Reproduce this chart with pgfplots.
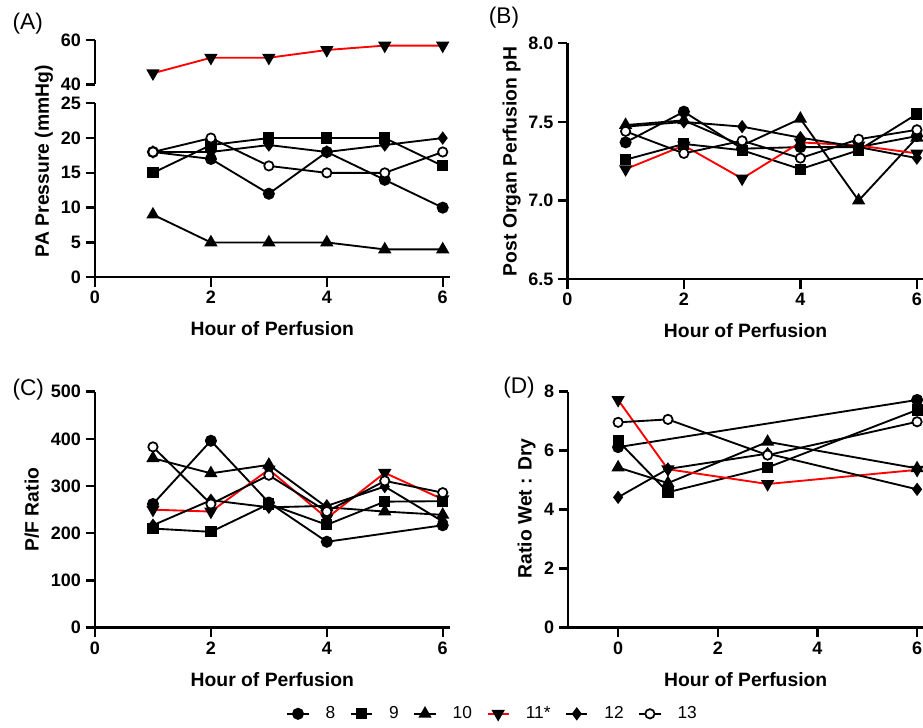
\documentclass[border=0pt]{standalone}
\usepackage{fontspec}
\setmainfont{Liberation Sans}
\setsansfont{Liberation Sans}
\usepackage{pgfplots}
\pgfplotsset{compat=1.18}

\pgfplotsset{
  panel/.style={
    scale only axis,
    anchor=south west,
    axis x line*=bottom, axis y line*=left,
    axis line style={line width=1.8pt},
    tick style={line width=1.8pt, black},
    tick align=outside,
    major tick length=7pt,
    xtick={0,2,4,6},
    xmin=0, xmax=6.12,
    ticklabel style={font=\bfseries\fontsize{13.5}{13.5}\selectfont},
    /pgf/number format/assume math mode=true,
    label style={font=\bfseries\fontsize{14.5}{14.5}\selectfont},
    xlabel style={at={([yshift=-38.8pt]axis description cs:0.5,0)}, anchor=center},
    clip=false,
  },
  s8/.style={black, line width=1.4pt, mark=*, mark size=3.8pt, mark options={solid}},
  s9/.style={black, line width=1.4pt, mark=square*, mark size=3.5pt, mark options={solid}},
  s10/.style={black, line width=1.4pt, mark=triangle*, mark size=4.4pt, mark options={solid}},
  s11/.style={red, line width=1.4pt, mark=triangle*, mark size=4.4pt, mark options={solid, black, fill=black, rotate=180}},
  s12/.style={black, line width=1.4pt, mark=diamond*, mark size=3.9pt, mark options={solid}},
  s13/.style={black, line width=1.4pt, mark=*, mark size=3.5pt, mark options={solid, fill=white, line width=1.3pt}},
}

\begin{document}
\begin{tikzpicture}
\useasboundingbox (0,0) rectangle (692.25pt,545.25pt);

% (A) upper segment
\begin{axis}[panel, at={(71.25pt,482.0pt)}, width=266pt, height=33.2pt,
  axis x line=none, ymin=40, ymax=60, ytick={40,60}]
\addplot[s11] coordinates {(1,45) (2,52) (3,52) (4,55.5) (5,57.5) (6,57.5)};
\end{axis}

% (A) lower segment
\begin{axis}[panel, at={(71.25pt,337.3pt)}, width=266pt, height=130.5pt,
  ymin=0, ymax=25, ytick={0,5,10,15,20,25},
  xlabel={Hour of Perfusion},
  ylabel={PA Pressure (mmHg)},
  ylabel style={at={([xshift=-38.3pt]axis description cs:0,0.668)}, anchor=center}]
\addplot[s8] coordinates {(1,18) (2,17) (3,12) (4,18) (5,14) (6,10)};
\addplot[s9] coordinates {(1,15) (2,19) (3,20) (4,20) (5,20) (6,16)};
\addplot[s10] coordinates {(1,9) (2,5) (3,5) (4,5) (5,4) (6,4)};
\addplot[s12] coordinates {(1,18) (2,18) (3,19) (4,18) (5,19) (6,20)};
\addplot[s13] coordinates {(1,18) (2,20) (3,16) (4,15) (5,15) (6,18)};
\end{axis}

% (B)
\begin{axis}[panel, at={(425.5pt,335.8pt)}, width=267.4pt, height=177pt,
  ymin=6.5, ymax=8.0, ytick={6.5,7.0,7.5,8.0},
  yticklabel style={/pgf/number format/.cd, fixed, fixed zerofill, precision=1},
  xlabel={Hour of Perfusion},
  ylabel={Post Organ Perfusion pH},
  ylabel style={at={([xshift=-41.7pt]axis description cs:0,0.5)}, anchor=center}]
\addplot[s8] coordinates {(1,7.37) (2,7.565) (3,7.33) (4,7.34) (5,7.34) (6,7.41)};
\addplot[s9] coordinates {(1,7.26) (2,7.36) (3,7.32) (4,7.20) (5,7.32) (6,7.55)};
\addplot[s10] coordinates {(1,7.48) (2,7.51) (3,7.35) (4,7.52) (5,7.00) (6,7.40)};
\addplot[s11] coordinates {(1,7.20) (2,7.35) (3,7.14) (4,7.37) (5,7.35) (6,7.30)};
\addplot[s12] coordinates {(1,7.47) (2,7.50) (3,7.47) (4,7.40) (5,7.34) (6,7.27)};
\addplot[s13] coordinates {(1,7.44) (2,7.30) (3,7.38) (4,7.27) (5,7.39) (6,7.45)};
\end{axis}

% (C)
\begin{axis}[panel, at={(71.25pt,74.5pt)}, width=266pt, height=177pt,
  ymin=0, ymax=500, ytick={0,100,200,300,400,500},
  xlabel={Hour of Perfusion},
  ylabel={P/F Ratio},
  ylabel style={at={([xshift=-47.3pt]axis description cs:0,0.5)}, anchor=center},
  legend columns=6,
  legend style={at={(1.122,-0.365)}, anchor=center, draw=none, fill=none,
    font=\fontsize{13}{13}\selectfont,
    /tikz/every odd column/.append style={column sep=10pt},
    /tikz/every even column/.append style={column sep=9pt}},
  legend image code/.code={\draw[mark repeat=2, mark phase=2, #1] plot coordinates {(0pt,0pt) (8pt,0pt) (16pt,0pt)};}]
\addplot[s8] coordinates {(1,262) (2,396) (3,265) (4,182) (6,217)};
\addlegendentry{8}
\addplot[s9] coordinates {(1,210) (2,203) (3,262) (4,218) (5,267) (6,268)};
\addlegendentry{9}
\addplot[s10] coordinates {(1,359) (2,327) (3,345) (4,255) (5,246) (6,239)};
\addlegendentry{10}
\addplot[s11] coordinates {(1,250) (2,246) (3,335) (4,232) (5,328) (6,272)};
\addlegendentry{11*}
\addplot[s12] coordinates {(1,217) (2,270) (3,255) (4,258) (5,299) (6,225)};
\addlegendentry{12}
\addplot[s13] coordinates {(1,383) (2,262) (3,323) (4,246) (5,311) (6,286)};
\addlegendentry{13}
\end{axis}

% (D)
\begin{axis}[panel, at={(426.2pt,74.5pt)}, width=266.1pt, height=177pt,
  xmin=-1, xmax=6.12,
  ymin=0, ymax=8, ytick={0,2,4,6,8},
  xlabel={Hour of Perfusion},
  ylabel={Ratio Wet : Dry},
  ylabel style={at={([xshift=-31.2pt]axis description cs:0,0.505)}, anchor=center}]
\addplot[s8] coordinates {(0,6.12) (6,7.72)};
\addplot[s9] coordinates {(0,6.33) (1,4.59) (3,5.43) (6,7.38)};
\addplot[s10] coordinates {(0,5.43) (1,4.90) (3,6.30) (6,5.40)};
\addplot[s11] coordinates {(0,7.72) (1,5.37) (3,4.87) (6,5.35)};
\addplot[s12] coordinates {(0,4.42) (1,5.38) (3,5.90) (6,4.69)};
\addplot[s13] coordinates {(0,6.96) (1,7.06) (3,5.85) (6,6.98)};
\end{axis}

\node[font=\fontsize{17}{17}\selectfont] at (20.8pt,527.3pt) {(A)};
\node[font=\fontsize{17}{17}\selectfont] at (378pt,531.75pt) {(B)};
\node[font=\fontsize{17}{17}\selectfont] at (21.2pt,252.75pt) {(C)};
\node[font=\fontsize{17}{17}\selectfont] at (389.25pt,254.6pt) {(D)};
\end{tikzpicture}
\end{document}
